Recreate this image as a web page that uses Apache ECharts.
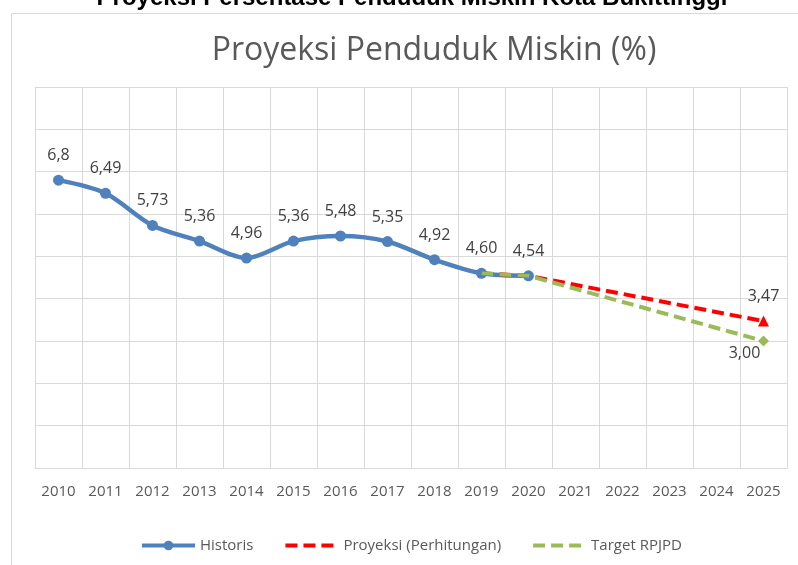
<!DOCTYPE html>
<html>
<head>
<meta charset="utf-8">
<script src="https://cdn.jsdelivr.net/npm/echarts@6/dist/echarts.min.js"></script>
<style>
  html, body { margin: 0; padding: 0; background: #fff; }
  #chart { width: 798px; height: 565px; }
</style>
</head>
<body>
<div id="chart"></div>
<script>
var years = ['2010', '2011', '2012', '2013', '2014', '2015', '2016', '2017',
             '2018', '2019', '2020', '2021', '2022', '2023', '2024', '2025'];
var historis = [6.8, 6.49, 5.73, 5.36, 4.96, 5.36, 5.48, 5.35, 4.92, 4.60, 4.54];
var historisLabels = ['6,8', '6,49', '5,73', '5,36', '4,96', '5,36', '5,48', '5,35', '4,92', '4,60', '4,54'];
// 2019, 2020 and 2025 are the only points given; the years between are empty
var proyeksi = [null, null, null, null, null, null, null, null, null, 4.60, 4.54, null, null, null, null, 3.47];
var target = [null, null, null, null, null, null, null, null, null, 4.60, 4.54, null, null, null, null, 3.00];
var proyeksiLabel = '3,47';
var targetLabel = '3,00';

(function () {
  var mychart = echarts.init(document.getElementById('chart'));
  var font = '"Open Sans", sans-serif';
  var last = years.length - 1;

  function endPoints(arr, sym, color, text, label) {
    return arr.map(function (v, i) {
      if (i !== last) return v;
      return {
        value: v,
        symbol: sym,
        symbolSize: 11,
        itemStyle: { color: color },
        label: Object.assign({ show: true, formatter: text }, label)
      };
    });
  }

  var option = {
    animation: false,
    graphic: [
      {
        type: 'rect',
        shape: { x: 11.5, y: 13.5, width: 820, height: 600 },
        style: { fill: 'none', stroke: '#d9d9d9', lineWidth: 1 },
        z: -1
      },
      {
        type: 'text',
        style: {
          text: 'Proyeksi Persentase Penduduk Miskin Kota Bukittinggi',
          x: 412, y: -14,
          align: 'center',
          verticalAlign: 'top',
          font: 'bold 24px "Liberation Sans", Arial, sans-serif',
          fill: '#000'
        }
      },
      {
        type: 'text',
        style: {
          text: 'Proyeksi Penduduk Miskin (%)',
          x: 434, y: 51,
          align: 'center',
          verticalAlign: 'middle',
          font: '32px "Open Sans", sans-serif',
          fill: '#595959'
        }
      }
    ],
    grid: { left: 35, right: 11, top: 87, bottom: 97, containLabel: false },
    legend: {
      left: 135,
      top: 533,
      itemWidth: 53,
      itemHeight: 12,
      itemGap: 30,
      textStyle: { color: '#595959', fontSize: 15, fontFamily: font },
      data: [
        { name: 'Historis', lineStyle: { width: 4 } },
        { name: 'Proyeksi (Perhitungan)', itemStyle: { opacity: 0 }, lineStyle: { width: 4 } },
        { name: 'Target RPJPD', itemStyle: { opacity: 0 }, lineStyle: { width: 4 } }
      ]
    },
    xAxis: {
      type: 'category',
      data: years,
      boundaryGap: true,
      axisLine: { show: true, lineStyle: { color: '#d9d9d9', width: 1 } },
      axisTick: { show: false },
      axisLabel: { color: '#595959', fontSize: 15, fontFamily: font, margin: 16, interval: 0 },
      splitLine: { show: true, lineStyle: { color: '#d9d9d9', width: 1 } }
    },
    yAxis: {
      type: 'value',
      min: 0,
      max: 9,
      interval: 1,
      axisLine: { show: false },
      axisTick: { show: false },
      axisLabel: { show: false },
      splitLine: { show: true, lineStyle: { color: '#d9d9d9', width: 1 } }
    },
    series: [
      {
        name: 'Historis',
        type: 'line',
        data: historis,
        smooth: 0.3,
        symbol: 'circle',
        symbolSize: 11,
        itemStyle: { color: '#4f81bd' },
        lineStyle: { color: '#4f81bd', width: 4.5 },
        label: {
          show: true,
          position: 'top',
          distance: 11,
          color: '#404040',
          fontSize: 16,
          fontFamily: font,
          formatter: function (p) { return historisLabels[p.dataIndex]; }
        },
        z: 2
      },
      {
        name: 'Proyeksi (Perhitungan)',
        type: 'line',
        data: endPoints(proyeksi, 'triangle', '#ff0000', proyeksiLabel,
          { position: 'top', distance: 11, color: '#404040', fontSize: 16, fontFamily: font }),
        connectNulls: true,
        symbol: 'none',
        itemStyle: { color: '#ff0000' },
        lineStyle: { color: '#ff0000', width: 4, type: [12, 6] },
        label: { show: false },
        z: 3
      },
      {
        name: 'Target RPJPD',
        type: 'line',
        data: endPoints(target, 'diamond', '#9bbb59', targetLabel,
          { position: 'bottom', distance: 0, offset: [-19, -1], color: '#404040', fontSize: 16, fontFamily: font }),
        connectNulls: true,
        symbol: 'none',
        itemStyle: { color: '#9bbb59' },
        lineStyle: { color: '#9bbb59', width: 4, type: [12, 6] },
        label: { show: false },
        z: 4
      }
    ]
  };
  mychart.setOption(option);
})();
</script>
</body>
</html>
